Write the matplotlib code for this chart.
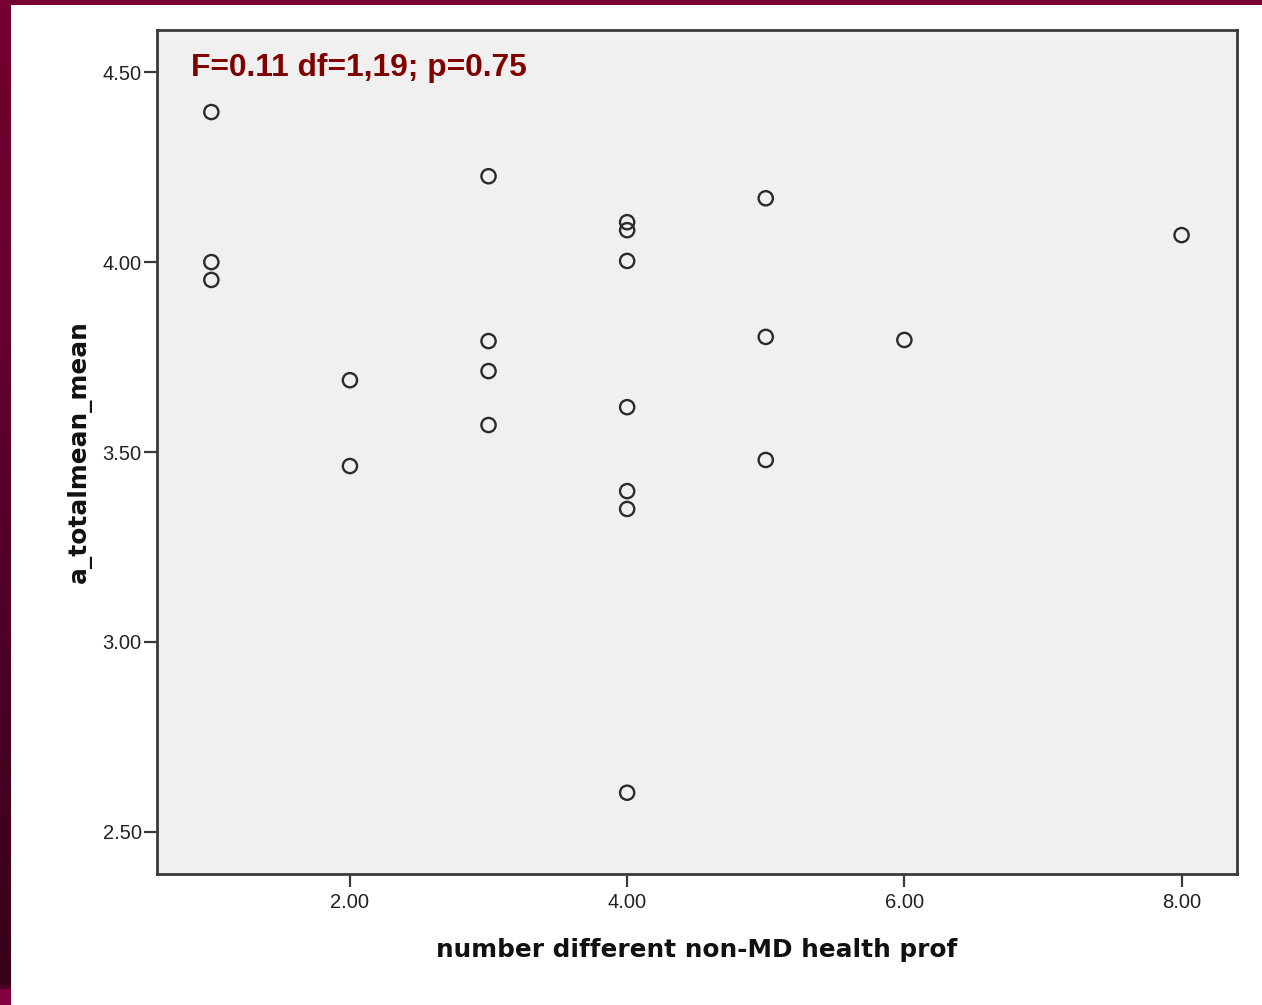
import numpy as np
import matplotlib
matplotlib.use("Agg")
import matplotlib.pyplot as plt
from matplotlib.patches import Rectangle
from matplotlib.colors import LinearSegmentedColormap

# Number of different non-MD health professionals vs. a_totalmean_mean
prof_count = [1, 1, 1,
              2, 2,
              3, 3, 3, 3,
              4, 4, 4, 4, 4, 4, 4,
              5, 5, 5,
              6,
              8]
total_mean = [4.395, 4.000, 3.953,
              3.689, 3.463,
              4.226, 3.792, 3.713, 3.571,
              4.105, 4.084, 4.003, 3.618, 3.397, 3.350, 2.603,
              4.168, 3.803, 3.479,
              3.795,
              4.071]

x_ticks = [2.0, 4.0, 6.0, 8.0]
y_ticks = [2.5, 3.0, 3.5, 4.0, 4.5]
stats_text = "F=0.11 df=1,19; p=0.75"

W, H = 1262, 1005
fig = plt.figure(figsize=(W / 100, H / 100), dpi=100, facecolor="white")

# slide frame: maroon strip on top and a shaded strip on the left
fig.patches.append(Rectangle((0, 1 - 5 / H), 1, 5 / H, transform=fig.transFigure,
                             facecolor="#780032", edgecolor="none", zorder=0))
band = fig.add_axes([0, 0, 11 / W, 1 - 5 / H])
band_cmap = LinearSegmentedColormap.from_list(
    "band", [(0.0, "#74002f"), (0.3, "#66002d"), (0.6, "#500026"),
             (0.984, "#38001a"), (0.985, "#82003e"), (1.0, "#82003e")])
rows = np.linspace(0, 1, 1000)[:, None]
band.imshow(rows, aspect="auto", cmap=band_cmap, origin="upper",
            interpolation="nearest")
band.set_axis_off()

ax = fig.add_axes([157 / W, 1 - 874 / H, 1080 / W, 844 / H])
ax.set_facecolor("#f0f0f0")
ax.scatter(prof_count, total_mean, s=105, facecolors="none", edgecolors="#2b2b2b",
           linewidths=1.7, zorder=3)

ax.set_xlim(0.608, 8.40)
ax.set_ylim(2.389, 4.611)
ax.set_xticks(x_ticks)
ax.set_yticks(y_ticks)
ax.set_xticklabels([f"{v:.2f}" for v in x_ticks])
ax.set_yticklabels([f"{v:.2f}" for v in y_ticks])

for s in ax.spines.values():
    s.set_color("#3a3a3a")
    s.set_linewidth(2.0)
ax.tick_params(direction="out", length=9.5, width=1.6, color="#3a3a3a",
               labelcolor="#222222", labelsize=14.5, pad=1.5)
ax.tick_params(axis="x", pad=4)
for lbl in ax.get_xticklabels() + ax.get_yticklabels():
    lbl.set_fontfamily("Liberation Sans")

ax.set_xlabel("number different non-MD health prof", fontsize=17.8, fontweight="bold",
              fontfamily="DejaVu Sans", color="#111111", labelpad=19)
ax.set_ylabel("a_totalmean_mean", fontsize=17.8, fontweight="bold",
              fontfamily="DejaVu Sans", color="#111111", labelpad=8)

ax.text(191 / W, 1 - 68 / H, stats_text, transform=fig.transFigure,
        fontsize=22.9, fontweight="bold", fontfamily="Liberation Sans",
        color="#800000", va="center", ha="left")

fig.savefig("out.png", dpi=100, facecolor="white")
